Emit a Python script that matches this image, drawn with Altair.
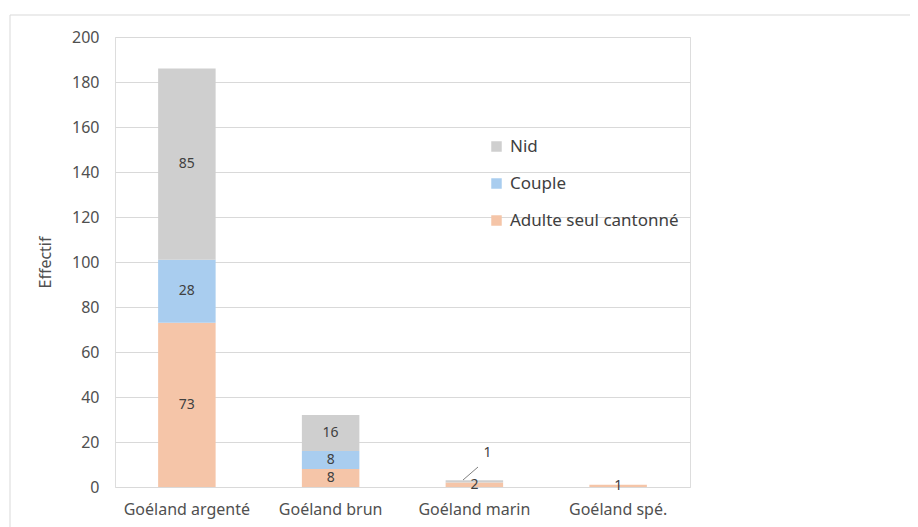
import altair as alt
import pandas as pd

categories = ["Goéland argenté", "Goéland brun", "Goéland marin", "Goéland spé."]
series = ["Adulte seul cantonné", "Couple", "Nid"]
adulte = [73, 8, 2, 1]
couple = [28, 8, 0, 0]
nid = [85, 16, 1, 0]
colors = ["#F5C5A8", "#A9CDEF", "#CFCFCF"]
y_ticks = [0, 20, 40, 60, 80, 100, 120, 140, 160, 180, 200]

rows = []
for i, c in enumerate(categories):
    for k, (s, vals) in enumerate(zip(series, [adulte, couple, nid])):
        rows.append({"cat": c, "serie": s, "value": vals[i], "ord": k})
df = pd.DataFrame(rows)

FONT = "Noto Sans"

xenc = alt.X("cat:N", sort=categories, title=None,
             scale=alt.Scale(paddingInner=0.6, paddingOuter=0.3),
             axis=alt.Axis(labelAngle=0, ticks=False, domain=False, labelFontSize=16,
                           labelColor="#505050", labelPadding=14, labelFont=FONT, grid=False))

base = alt.Chart(df)

bars = base.mark_bar().encode(
    x=xenc,
    y=alt.Y("value:Q", stack="zero", title="Effectif",
            scale=alt.Scale(domain=[0, 200], nice=False),
            axis=alt.Axis(values=y_ticks, ticks=False, domain=False, labelFontSize=16,
                          labelColor="#505050", labelPadding=16, labelFont=FONT,
                          gridColor="#D9D9D9", gridWidth=1.2, titleFontSize=16,
                          titleColor="#505050", titleFont=FONT, titleFontWeight="normal",
                          titlePadding=18)),
    color=alt.Color("serie:N", sort=["Nid", "Couple", "Adulte seul cantonné"],
                    scale=alt.Scale(domain=["Nid", "Couple", "Adulte seul cantonné"],
                                    range=[colors[2], colors[1], colors[0]]),
                    legend=alt.Legend(title=None, orient="none", legendX=373, legendY=101,
                                      symbolType="square", symbolSize=110, symbolStrokeWidth=0,
                                      labelFontSize=17, labelColor="#404040", labelFont=FONT,
                                      labelLimit=0,
                                      rowPadding=19, symbolOffset=0, labelOffset=5)),
    order=alt.Order("ord:Q"),
).transform_filter(alt.datum.value > 0)

stacked = base.transform_filter(alt.datum.value > 0).transform_stack(
    stack="value", groupby=["cat"], sort=[alt.SortField("ord")], as_=["v0", "v1"]
).transform_calculate(mid="(datum.v0 + datum.v1) / 2")

labels = stacked.transform_filter(
    "!(datum.cat == 'Goéland marin' && datum.serie == 'Nid')"
).mark_text(fontSize=14, color="#404040", font=FONT, baseline="middle").encode(
    x=alt.X("cat:N", sort=categories),
    y=alt.Y("mid:Q"),
    text=alt.Text("value:Q"),
)

outside = stacked.transform_filter(
    "datum.cat == 'Goéland marin' && datum.serie == 'Nid'"
).mark_text(fontSize=14, color="#404040", font=FONT, baseline="middle", dx=13, dy=-28).encode(
    x=alt.X("cat:N", sort=categories),
    y=alt.Y("mid:Q"),
    text=alt.Text("value:Q"),
)

leader = alt.Chart(pd.DataFrame({"a": [0]})).mark_rule(color="#7F7F7F", strokeWidth=1).encode(
    x=alt.value(348), x2=alt.value(363), y=alt.value(443), y2=alt.value(430)
)

frame = alt.Chart(pd.DataFrame({"a": [0]})).mark_rect(
    fill=None, stroke="#D9D9D9", strokeWidth=1
).encode(x=alt.value(-105), x2=alt.value(830), y=alt.value(-22), y2=alt.value(510))

chart = alt.layer(frame, bars, labels, outside, leader).properties(
    width=575, height=450,
    autosize=alt.AutoSizeParams(type="none"),
    padding={"left": 107, "top": 29, "right": 220, "bottom": 40},
).configure_view(stroke=None).configure(background="white")

chart.save("out.html", embed_options={"renderer": "svg", "actions": False})
